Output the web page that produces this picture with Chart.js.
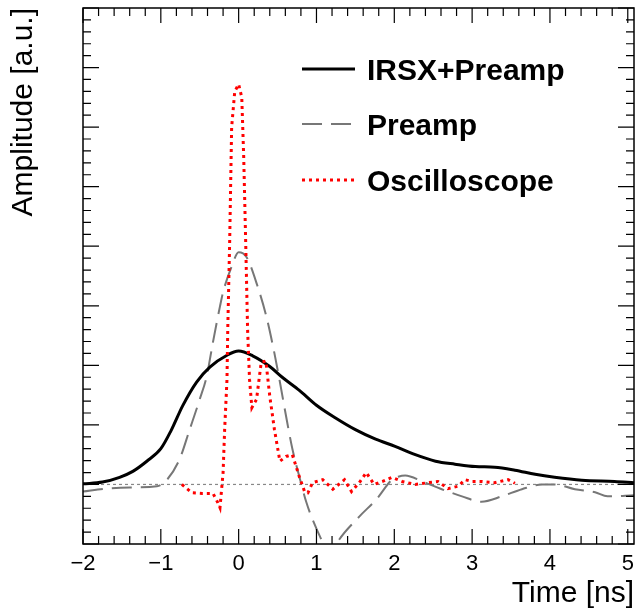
<!DOCTYPE html>
<html>
<head>
<meta charset="utf-8">
<script src="https://cdn.jsdelivr.net/npm/chart.js@4.4.0/dist/chart.umd.min.js"></script>
<style>
  body { margin: 0; background: #fff; }
</style>
</head>
<body>
<canvas id="myChart" width="636" height="614"></canvas>
<script>
// IRSX+Preamp (solid black)
const irsxTime = [-2.0, -1.75, -1.53, -1.36, -1.18, -1.0, -0.87, -0.72, -0.54, -0.37, -0.15, 0.0, 0.18, 0.4, 0.56, 0.78,
    1.0, 1.24, 1.5, 1.76, 2.01, 2.27, 2.53, 2.78, 3.04, 3.29, 3.55, 3.81, 4.06, 4.41, 4.83, 5.08];
const irsxAmp = [0.01, 0.04, 0.12, 0.22, 0.39, 0.6, 0.9, 1.32, 1.72, 1.97, 2.17, 2.24, 2.16, 1.98, 1.8, 1.58,
    1.33, 1.12, 0.92, 0.76, 0.64, 0.5, 0.39, 0.34, 0.3, 0.29, 0.24, 0.17, 0.12, 0.07, 0.05, 0.03];

// Preamp (grey dashed)
const preampTime = [-2.0, -1.7, -1.4, -1.05, -0.92, -0.76, -0.63, -0.5, -0.41, -0.33, -0.24, -0.2, -0.09, 0.0, 0.1, 0.24,
    0.36, 0.46, 0.53, 0.61, 0.69, 0.78, 0.87, 0.95, 1.08, 1.18, 1.27, 1.55, 1.77, 1.97, 2.05, 2.14, 2.36, 2.61, 2.87,
    3.12, 3.38, 3.64, 3.9, 4.06, 4.32, 4.58, 4.74, 5.08];
const preampAmp = [-0.12, -0.07, -0.05, -0.03, 0.08, 0.42, 0.92, 1.43, 1.82, 2.39, 2.99, 3.23, 3.66, 3.9, 3.82, 3.34,
    2.8, 2.2, 1.72, 1.14, 0.6, 0.13, -0.3, -0.59, -0.97, -1.2, -0.97, -0.54, -0.25, 0.08, 0.13, 0.15, 0.05, -0.08, -0.2,
    -0.29, -0.2, -0.08, 0.0, 0.0, -0.08, -0.13, -0.2, -0.18];

// Oscilloscope (red dotted)
const scopeTime = [-0.73, -0.6, -0.47, -0.33, -0.27, -0.24, -0.2, -0.18, -0.15, -0.14, -0.115, -0.09, -0.05, 0.0, 0.04,
    0.065, 0.09, 0.115, 0.14, 0.17, 0.23, 0.29, 0.35, 0.4, 0.46, 0.53, 0.61, 0.69, 0.78, 0.85, 0.89, 0.95, 1.08, 1.21,
    1.36, 1.45, 1.55, 1.64, 1.74, 1.85, 1.97, 2.1, 2.27, 2.44, 2.56, 2.69, 2.82, 2.91, 3.0, 3.12, 3.29, 3.46, 3.55];
const scopeAmp = [0.0, -0.14, -0.15, -0.15, -0.3, -0.39, 0.2, 0.92, 1.76, 2.6, 4.1, 6.0, 6.6, 6.72, 6.5,
    5.5, 4.1, 2.6, 1.76, 1.29, 1.43, 2.05, 2.07, 1.48, 0.92, 0.39, 0.47, 0.5, 0.13, -0.13, -0.14, 0.03, 0.08, -0.08,
    0.08, -0.12, 0.03, 0.2, 0.0, 0.05, 0.12, 0.05, 0.0, 0.03, 0.05, -0.07, -0.03, 0.08, 0.05, 0.05, 0.03, 0.08, 0.02];

// zero line
const zeroTime = [-2.0, 5.08];
const zeroAmp = [0, 0];

const xTickValues = [-2, -1, 0, 1, 2, 3, 4, 5];
const seriesLabels = ['IRSX+Preamp', 'Preamp', 'Oscilloscope'];

const FONT = '"Liberation Sans", Arial, Helvetica, sans-serif';

function toPoints(xs, ys) {
    return xs.map((x, i) => ({ x: x, y: ys[i] }));
}

// ROOT-like frame with major/minor ticks on all four sides
const frameTicks = {
    id: 'frameTicks',
    afterDatasetsDraw(chart) {
        const { ctx, chartArea: a, scales } = chart;
        const xs = scales.x, ys = scales.y;
        ctx.save();
        ctx.strokeStyle = '#000';
        ctx.lineWidth = 1.5;
        ctx.strokeRect(a.left, a.top, a.right - a.left, a.bottom - a.top);
        ctx.lineWidth = 1.2;
        ctx.beginPath();
        for (let i = -10; i <= 25; i++) {
            const px = xs.getPixelForValue(i * 0.2);
            if (px < a.left - 0.5 || px > a.right + 0.5) continue;
            const len = (i % 5 === 0) ? 15 : 8;
            ctx.moveTo(px, a.bottom); ctx.lineTo(px, a.bottom - len);
            ctx.moveTo(px, a.top); ctx.lineTo(px, a.top + len);
        }
        for (let i = -5; i <= 40; i++) {
            const py = ys.getPixelForValue(i * 0.2);
            if (py < a.top - 0.5 || py > a.bottom + 0.5) continue;
            const len = (i % 5 === 0) ? 16 : 8;
            ctx.moveTo(a.left, py); ctx.lineTo(a.left + len, py);
            ctx.moveTo(a.right, py); ctx.lineTo(a.right - len, py);
        }
        ctx.stroke();
        ctx.restore();
    }
};

// legend drawn inside the frame, top right
const innerLegend = {
    id: 'innerLegend',
    afterDraw(chart) {
        const ctx = chart.ctx;
        const rows = [69, 124, 180];
        ctx.save();
        seriesLabels.forEach((label, i) => {
            const ds = chart.data.datasets[i];
            const y = rows[i];
            ctx.strokeStyle = ds.borderColor;
            ctx.lineWidth = ds.borderWidth;
            ctx.setLineDash(ds.borderDash || []);
            ctx.beginPath();
            ctx.moveTo(302, y);
            ctx.lineTo(355, y);
            ctx.stroke();
            ctx.setLineDash([]);
            ctx.fillStyle = '#000';
            ctx.font = 'bold 30px ' + FONT;
            ctx.textBaseline = 'middle';
            ctx.textAlign = 'left';
            ctx.fillText(label, 367, y + 3);
        });
        ctx.restore();
    }
};

const ctx = document.getElementById('myChart').getContext('2d');
const chart = new Chart(ctx, {
    type: 'line',
    data: {
        datasets: [
            {
                label: seriesLabels[0],
                data: toPoints(irsxTime, irsxAmp),
                borderColor: '#000',
                borderWidth: 3,
                cubicInterpolationMode: 'monotone',
                order: 2
            },
            {
                label: seriesLabels[1],
                data: toPoints(preampTime, preampAmp),
                borderColor: '#777',
                borderWidth: 2,
                borderDash: [20, 9],
                cubicInterpolationMode: 'monotone',
                order: 3
            },
            {
                label: seriesLabels[2],
                data: toPoints(scopeTime, scopeAmp),
                borderColor: '#f00',
                borderWidth: 3,
                borderDash: [3, 4],
                tension: 0,
                order: 1
            },
            {
                label: 'zero',
                data: toPoints(zeroTime, zeroAmp),
                borderColor: '#888',
                borderWidth: 1.2,
                borderDash: [3, 3],
                order: 4
            }
        ]
    },
    options: {
        responsive: false,
        animation: false,
        devicePixelRatio: 1,
        parsing: false,
        elements: { point: { radius: 0 } },
        layout: { autoPadding: false, padding: { top: 8, right: 2, left: 0, bottom: 0 } },
        plugins: {
            legend: { display: false },
            tooltip: { enabled: false }
        },
        scales: {
            x: {
                type: 'linear',
                min: -2,
                max: 5.08,
                grid: { display: false, drawTicks: false },
                border: { display: false },
                afterBuildTicks: (scale) => {
                    scale.ticks = xTickValues.map(v => ({ value: v }));
                },
                afterFit: (scale) => {
                    scale.height = 70;
                    scale.paddingLeft = 0;
                    scale.paddingRight = 0;
                },
                ticks: {
                    autoSkip: false,
                    maxRotation: 0,
                    padding: 7,
                    color: '#000',
                    font: { family: FONT, size: 22 },
                    callback: (v) => (v < 0 ? '\u2212' + Math.abs(v) : String(v))
                },
                title: {
                    display: true,
                    text: 'Time [ns]',
                    align: 'end',
                    color: '#000',
                    font: { family: FONT, size: 30 },
                    padding: { top: 0, bottom: 2 }
                }
            },
            y: {
                type: 'linear',
                min: -1,
                max: 8,
                grid: { display: false, drawTicks: false },
                border: { display: false },
                ticks: { display: false },
                afterFit: (scale) => {
                    scale.width = 83;
                    scale.paddingTop = 0;
                    scale.paddingBottom = 0;
                },
                title: {
                    display: true,
                    text: 'Amplitude [a.u.]',
                    align: 'end',
                    color: '#000',
                    font: { family: FONT, size: 30 },
                    padding: { top: 6, bottom: 0 }
                }
            }
        }
    },
    plugins: [frameTicks, innerLegend]
});
</script>
</body>
</html>
